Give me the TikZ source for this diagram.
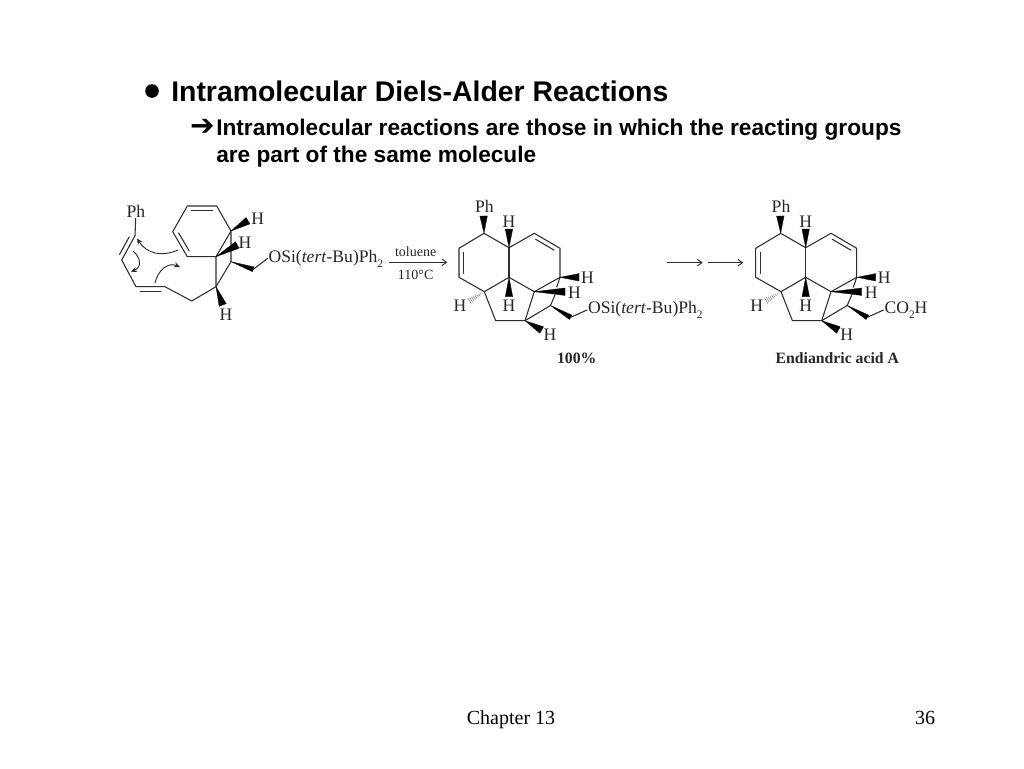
\documentclass[tikz,border=0pt]{standalone}
\usepackage{fontspec}
\setmainfont{Liberation Sans}
\newfontfamily\chemfont{Liberation Serif}
\newfontfamily\symfont{DejaVu Sans}
\usetikzlibrary{calc,arrows.meta}
\definecolor{bond}{HTML}{2E2E2E}
\definecolor{chem}{HTML}{262626}
\newcommand{\lowsub}[1]{\raisebox{-0.28em}{\fontsize{8.5pt}{9pt}\selectfont #1}}
\tikzset{
  x=0.75pt,y=-0.75pt,
  bondline/.style={draw=bond,line width=0.8pt,line join=round,line cap=round},
  wedgefill/.style={fill=black,draw=black,line width=0.2pt},
  curly/.style={draw=bond,line width=0.7pt,-{Stealth[length=4.5pt,width=4pt]}},
  rxn/.style={draw=bond,line width=0.7pt,-{Straight Barb[length=3.5pt,width=5pt]}},
  lbl/.style={font=\chemfont\fontsize{13.2pt}{14pt}\selectfont,text=chem,inner sep=0.6pt},
  smalltext/.style={font=\chemfont\fontsize{10.5pt}{12pt}\selectfont,text=chem,inner sep=0pt},
  captiontext/.style={font=\chemfont\bfseries\fontsize{11.8pt}{13pt}\selectfont,text=chem,inner sep=0pt},
  headtext/.style={font=\bfseries\fontsize{21.3pt}{24pt}\selectfont,anchor=base west,inner sep=0pt,text=black},
  subtext/.style={font=\bfseries\fontsize{17pt}{20pt}\selectfont,anchor=base west,inner sep=0pt,text=black},
  foottext/.style={font=\chemfont\fontsize{15pt}{17pt}\selectfont,inner sep=0pt,text=black,anchor=base},
}
\newcommand{\wedgebond}[3][2.8pt]{\fill[wedgefill] (#2) -- ($(#3)!#1!90:(#2)$) -- ($(#3)!#1!-90:(#2)$) -- cycle;}
\newcommand{\innerbond}[3]{\draw[bondline] ($(#1)!.14!(#2)!3.4pt!#3:(#2)$) -- ($(#2)!.14!(#1)!3.4pt!-#3:(#1)$);}
\newcommand{\hashbond}[2]{\foreach \t in {0.12,0.22,...,1.0}{\draw[draw=gray,line width=0.45pt] ($(#1)!\t!(#2)!\t*2.6pt!90:(#2)$) -- ($(#1)!\t!(#2)!\t*2.6pt!-90:(#2)$);}}
\newcommand{\corering}[2]{%
  \begin{scope}[shift={(#2,0)}]
    \coordinate (#1a) at (484,233.3);
    \coordinate (#1b) at (509,247.7);
    \coordinate (#1c) at (534.3,233.3);
    \coordinate (#1d) at (560,248.3);
    \coordinate (#1e) at (560,277.3);
    \coordinate (#1f) at (534.3,291.7);
    \coordinate (#1g) at (509,277.3);
    \coordinate (#1h) at (484.3,291.7);
    \coordinate (#1i) at (459,277.3);
    \coordinate (#1j) at (459,248.3);
    \coordinate (#1k) at (495.7,320.7);
    \coordinate (#1l) at (525,320.7);
    \coordinate (#1m) at (550.5,305.5);
    \coordinate (#1n) at (570.7,317.3);
    \coordinate (#1ga) at (556.7,287);
    \coordinate (#1gb) at (555,295);
    \coordinate (#1wa) at (483.6,216);
    \coordinate (#1wb) at (509,229);
    \coordinate (#1we) at (579,277.3);
    \coordinate (#1wf) at (565,291.7);
    \coordinate (#1wg) at (509,296.7);
    \coordinate (#1wh) at (468.3,301.7);
    \coordinate (#1wl) at (541.7,330);
    \node[lbl] (#1Ph) at (484.3,206) {Ph};
    \node[lbl] (#1H1) at (509,222) {H};
    \node[lbl] (#1H2) at (587.5,277.5) {H};
    \node[lbl] (#1H3) at (574.5,292.5) {H};
    \node[lbl] (#1H4) at (509,305.5) {H};
    \node[lbl] (#1H5) at (460,305.5) {H};
    \node[lbl] (#1H6) at (550,335) {H};
    \draw[bondline] (#1a) -- (#1b) -- (#1c) -- (#1d) -- (#1e) -- (#1f) -- (#1g) -- (#1h) -- (#1i) -- (#1j) -- cycle;
    \draw[bondline] (#1b) -- (#1g);
    \draw[bondline] (#1h) -- (#1k) -- (#1l) -- (#1f);
    \draw[bondline] (#1l) -- (#1m);
    \draw[bondline] (#1m) -- (#1gb);
    \draw[bondline] (#1ga) -- (#1e);
    \innerbond{#1c}{#1d}{-90}
    \innerbond{#1j}{#1i}{90}
    \wedgebond{#1a}{#1wa}
    \wedgebond{#1b}{#1wb}
    \wedgebond{#1e}{#1we}
    \wedgebond{#1f}{#1wf}
    \wedgebond{#1g}{#1wg}
    \wedgebond{#1l}{#1wl}
    \wedgebond[1.9pt]{#1m}{#1n}
    \hashbond{#1h}{#1wh}
  \end{scope}}
\begin{document}
\begin{tikzpicture}
\fill[white] (0,0) rectangle (1024,768);
\useasboundingbox (0,0) rectangle (1024,768);

% heading
\fill[black] (152,91) circle[radius=6.8];
\node[headtext] (title) at (171,101) {Intramolecular Diels-Alder Reactions};
\node[anchor=base west,inner sep=0pt,font=\symfont\fontsize{22pt}{24pt}\selectfont] (tip) at (190,135) {➔};
\node[subtext] (line1) at (216,135) {Intramolecular reactions are those in which the reacting groups};
\node[subtext] (line2) at (216,162) {are part of the same molecule};

% first molecule
\coordinate (c1) at (135,235.7);
\coordinate (c2) at (121.7,260);
\coordinate (c3) at (136,286.7);
\coordinate (c4) at (165,286.7);
\coordinate (c5) at (191.7,301);
\coordinate (c6) at (216,286.7);
\coordinate (c7) at (231,261.7);
\coordinate (c8) at (216,256.7);
\coordinate (c9) at (187.3,256.7);
\coordinate (c10) at (172.7,231.7);
\coordinate (c11) at (187.3,206);
\coordinate (c12) at (216.7,206);
\coordinate (c13) at (231,231);
\coordinate (c14) at (253.3,269.3);
\coordinate (w13) at (248,220.7);
\coordinate (w8) at (237.3,245);
\coordinate (w6) at (222.7,305);
\node[lbl] (ph1) at (136,211) {Ph};
\node[lbl] (h1a) at (257.7,219) {H};
\node[lbl] (h1b) at (245,243) {H};
\node[lbl] (h1c) at (226,315) {H};
\node[lbl,anchor=west] (os1) at (267.5,258.5) {OSi(\textit{tert}-Bu)Ph\lowsub{2}};
\draw[bondline] (ph1) -- (c1);
\draw[bondline] (c1) -- (c2) -- (c3) -- (c4) -- (c5) -- (c6) -- (c8) -- (c9) -- (c10) -- (c11) -- (c12) -- (c13) -- (c8);
\draw[bondline] (c13) -- (c7) -- (c6);
\draw[bondline] (c14) -- (os1.west);
\innerbond{c1}{c2}{-90}
\innerbond{c3}{c4}{-90}
\innerbond{c9}{c10}{-90}
\innerbond{c11}{c12}{-90}
\wedgebond{c13}{w13}
\wedgebond{c8}{w8}
\wedgebond{c6}{w6}
\wedgebond[1.9pt]{c7}{c14}
\coordinate (a1s) at (178,250);
\coordinate (a1e) at (137,238.5);
\coordinate (a2s) at (133,251);
\coordinate (a2e) at (131,272);
\coordinate (a3s) at (155,283);
\coordinate (a3e) at (180,267);
\draw[curly] (a1s) .. controls (162,257) and (147,254) .. (a1e);
\draw[curly] (a2s) .. controls (141,258) and (142,267) .. (a2e);
\draw[curly] (a3s) .. controls (158,270) and (168,262) .. (a3e);

% reaction arrow
\coordinate (r1s) at (389,262.3);
\coordinate (r1e) at (447.3,262.3);
\draw[rxn] (r1s) -- (r1e);
\node[smalltext] (tol) at (415.7,252) {toluene};
\node[smalltext] (temp) at (415.7,275) {110°C};

% second molecule
\corering{m}{0}
\node[lbl,anchor=west] (os2) at (587,310) {OSi(\textit{tert}-Bu)Ph\lowsub{2}};
\draw[bondline] (mn) -- (os2.west);
\node[captiontext] (yield) at (576.7,358.3) {100\%};

% two arrows
\coordinate (r2s) at (666.7,262.7);
\coordinate (r2e) at (702.7,262.7);
\coordinate (r3s) at (708.3,262.7);
\coordinate (r3e) at (743.3,262.7);
\draw[rxn] (r2s) -- (r2e);
\draw[rxn] (r3s) -- (r3e);

% third molecule
\corering{p}{296.7}
\node[lbl,anchor=west] (co2h) at (883.5,310) {CO\lowsub{2}H};
\draw[bondline] (pn) -- (co2h.west);
\node[captiontext] (name) at (837.3,358.3) {Endiandric acid A};

% footer
\node[foottext] (chapter) at (511,724) {Chapter 13};
\node[foottext] (page) at (925,724) {36};
\end{tikzpicture}
\end{document}
